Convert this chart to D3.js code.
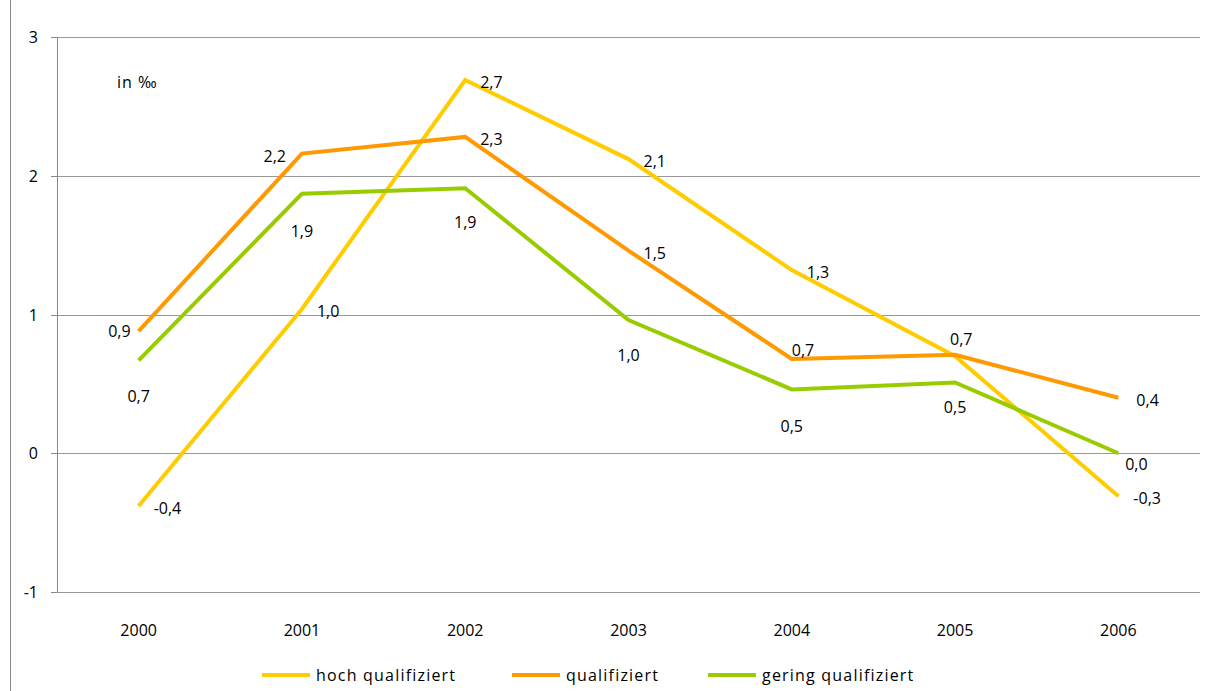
<!DOCTYPE html>
<html lang="en">
<head>
<meta charset="UTF-8">
<title>Qualifikation</title>
<script src="https://d3js.org/d3.v7.min.js"></script>
<style>
  body { margin: 0; background: #fff; }
  text { font-family: "Open Sans", "Liberation Sans", sans-serif; font-size: 16px; fill: #000; }
</style>
</head>
<body>
<div id="chart"></div>
<script>
var years = ["2000", "2001", "2002", "2003", "2004", "2005", "2006"];
var hoch = [-0.38, 1.04, 2.69, 2.12, 1.32, 0.70, -0.31];
var qualifiziert = [0.88, 2.16, 2.28, 1.46, 0.68, 0.71, 0.40];
var gering = [0.67, 1.87, 1.91, 0.96, 0.46, 0.51, 0.00];
var yTicks = [-1, 0, 1, 2, 3];

// label placement per series: [dx, dy, anchor], null = no label
var hochLabels = [[15, 8, "start"], [15, 8, "start"], [15, 8, "start"], [15, 8, "start"], [15, 8, "start"], null, [15, 8, "start"]];
var qualLabels = [[-8, 6, "end"], [-16, 8, "end"], [15, 8, "start"], [15, 8, "start"], [0, -3, "start"], [-5, -10, "start"], [18, 8, "start"]];
var geringLabels = [[0, 42, "middle"], [0, 43, "middle"], [0, 40, "middle"], [0, 41, "middle"], [0, 43, "middle"], [0, 31, "middle"], [18, 17, "middle"]];

var series = [
  { name: "hoch qualifiziert", color: "#FFCC00", values: hoch, labels: hochLabels },
  { name: "qualifiziert", color: "#FF9900", values: qualifiziert, labels: qualLabels },
  { name: "gering qualifiziert", color: "#99CC00", values: gering, labels: geringLabels }
];

var W = 1214, H = 691;
var svg = d3.select("#chart").append("svg").attr("width", W).attr("height", H);

svg.append("line").attr("x1", 10.5).attr("x2", 10.5).attr("y1", 0).attr("y2", H)
  .attr("stroke", "#888").attr("stroke-width", 1);

var left = 57, right = 1200;
var x = d3.scaleBand().domain(years).range([left, right]);
var y = d3.scaleLinear().domain([-1, 3]).range([592, 37]);

svg.selectAll(".grid").data(yTicks).enter().append("line")
  .attr("x1", left).attr("x2", right)
  .attr("y1", function(d) { return Math.round(y(d)) + 0.5; })
  .attr("y2", function(d) { return Math.round(y(d)) + 0.5; })
  .attr("stroke", "#999").attr("stroke-width", 1);

svg.append("line").attr("x1", left + 0.5).attr("x2", left + 0.5)
  .attr("y1", y(3)).attr("y2", y(-1)).attr("stroke", "#888");

svg.selectAll(".tick-mark").data(yTicks).enter().append("line")
  .attr("x1", left - 6).attr("x2", left)
  .attr("y1", function(d) { return Math.round(y(d)) + 0.5; })
  .attr("y2", function(d) { return Math.round(y(d)) + 0.5; })
  .attr("stroke", "#888");

svg.selectAll(".ylab").data(yTicks).enter().append("text")
  .attr("x", 38).attr("y", function(d) { return y(d) + 6; })
  .attr("text-anchor", "end").text(function(d) { return d; });

svg.selectAll(".xlab").data(years).enter().append("text")
  .attr("x", function(d) { return x(d) + x.bandwidth() / 2; })
  .attr("y", 636).attr("text-anchor", "middle").text(function(d) { return d; });

svg.append("text").attr("x", 117).attr("y", 88).style("letter-spacing", "1px").text("in ‰");

var line = d3.line()
  .x(function(d, i) { return x(years[i]) + x.bandwidth() / 2; })
  .y(function(d) { return y(d); });

var fmt = function(v) { return d3.format(".1f")(v).replace(".", ",").replace("−", "-"); };

series.forEach(function(s) {
  svg.append("path").datum(s.values).attr("d", line)
    .attr("fill", "none").attr("stroke", s.color).attr("stroke-width", 4);
});

series.forEach(function(s) {
  s.values.forEach(function(v, i) {
    var l = s.labels[i];
    if (!l) return;
    svg.append("text")
      .attr("x", x(years[i]) + x.bandwidth() / 2 + l[0])
      .attr("y", y(v) + l[1])
      .attr("text-anchor", l[2])
      .text(fmt(v));
  });
});

var legendX = [262, 512, 708];
series.forEach(function(s, i) {
  var g = svg.append("g").attr("transform", "translate(" + legendX[i] + ",675)");
  g.append("line").attr("x1", 0).attr("x2", 48).attr("y1", 0).attr("y2", 0)
    .attr("stroke", s.color).attr("stroke-width", 4);
  g.append("text").attr("x", 54).attr("y", 6).style("letter-spacing", "1.2px").text(s.name);
});
</script>
</body>
</html>
